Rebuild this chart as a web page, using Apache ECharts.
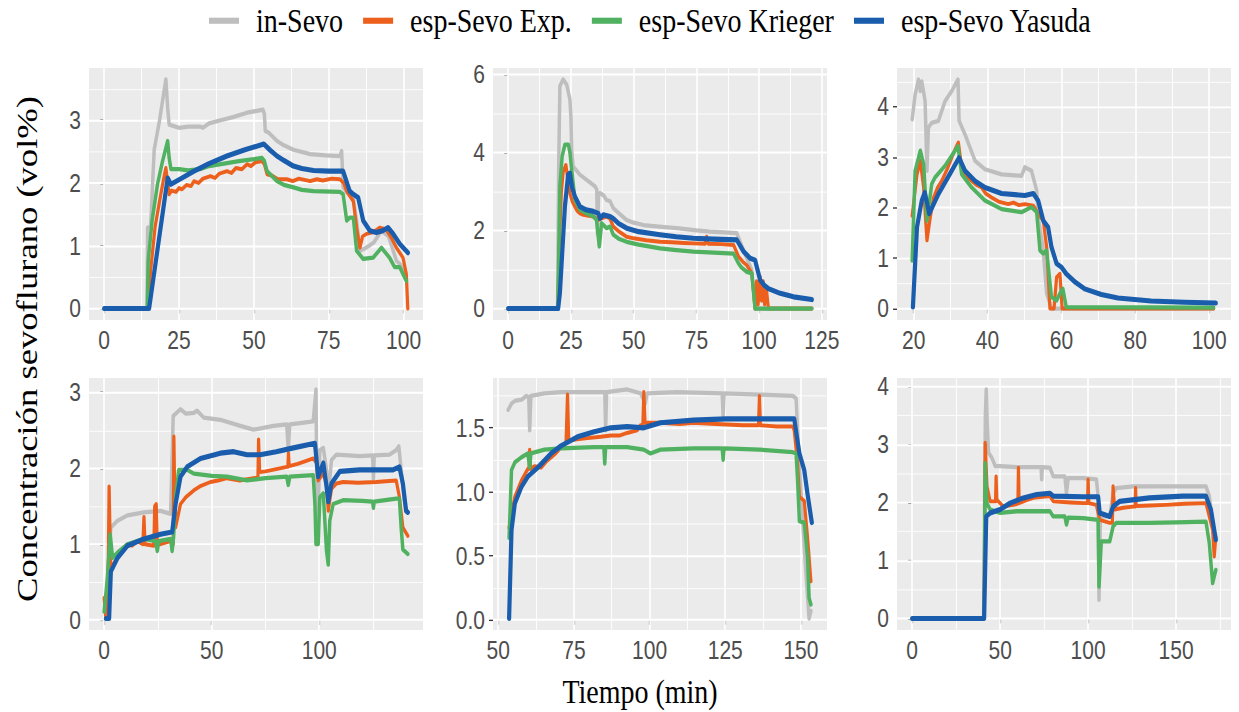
<!DOCTYPE html>
<html>
<head>
<meta charset="utf-8">
<script src="https://cdn.jsdelivr.net/npm/echarts@6/dist/echarts.min.js"></script>
<style>
  html, body { margin: 0; padding: 0; background: #ffffff; width: 1239px; height: 712px; }
  #frame { position: relative; width: 1239px; height: 712px; overflow: hidden; }
  #chart { position: absolute; left: 0; top: 0; width: 1239px; transform-origin: 0 0; }
</style>
</head>
<body>
<div id="frame"><div id="chart"></div></div>
<script>
// ---- series names and colours ----
const seriesNames = ['in-Sevo', 'esp-Sevo Exp.', 'esp-Sevo Krieger', 'esp-Sevo Yasuda'];
const seriesColors = ['#BEBEBE', '#EC5F1C', '#50B160', '#1A5DAD'];

// ---- case 1 : [minute, vol%] ----
const p1Gray = [[0,0],[14.3,0],[14.5,1.29],[15.5,1.3],[16.7,2.53],[18.5,3.0],[20.6,3.65],[21.2,3.2],[21.7,2.93],[25,2.88],[28,2.9],[32,2.9],[33,2.88],[35,2.95],[38.9,3.0],[43,3.05],[47.7,3.12],[51,3.15],[53,3.17],[53.5,3.1],[53.8,2.83],[55,2.8],[57.7,2.67],[60,2.6],[63.2,2.53],[68.8,2.46],[74,2.44],[78.7,2.43],[79.3,2.51],[79.8,1.93],[81,1.85],[83.2,1.75],[84.3,1.4],[85.4,0.92],[87.5,0.97],[90,1.05],[92.6,1.24],[95,1.15],[97.6,0.76],[99,0.7],[100.9,0.5]];
const p1Orange = [[0,0],[14.4,0],[15.5,0.6],[17,1.3],[18.9,1.82],[20,2.1],[20.6,2.24],[21.2,2.0],[21.7,1.82],[22.5,1.88],[24,1.86],[25,1.92],[26,1.9],[27.5,1.97],[29,1.95],[30,2.03],[31.5,2.0],[33,2.07],[35.5,2.11],[37,2.08],[38.5,2.15],[41,2.19],[42.5,2.16],[44,2.24],[46,2.22],[47.7,2.3],[49,2.27],[50.5,2.33],[52.7,2.35],[53.5,2.3],[54.4,2.14],[56,2.12],[58,2.06],[61,2.06],[63,2.03],[65,2.07],[68.8,2.03],[71,2.06],[73,2.04],[76,2.07],[78.7,2.06],[80,2.0],[81,1.87],[83.2,1.71],[84.3,1.29],[85.4,0.97],[86.3,1.15],[87.6,1.19],[90,1.22],[92,1.29],[94.2,1.26],[96,1.12],[97.6,0.97],[99.8,0.81],[100.9,0.55],[101.4,0]];
const p1Green = [[0,0],[14.4,0],[14.7,0.76],[16,1.4],[17.8,1.98],[19.5,2.35],[21.2,2.67],[21.7,2.4],[22.3,2.22],[25,2.22],[28,2.2],[32,2.22],[35,2.27],[40,2.31],[45,2.35],[50,2.38],[52.7,2.4],[53.5,2.35],[54.4,2.19],[57.7,2.03],[60,1.97],[63.2,1.93],[66,1.89],[69.9,1.87],[78.7,1.86],[79.8,1.82],[81,1.4],[82,1.45],[83.2,1.45],[84.3,0.92],[86.5,0.79],[89.8,0.81],[92.6,0.97],[95.3,0.81],[97,0.66],[98.7,0.66],[100.9,0.44]];
const p1Blue = [[0,0],[15,0],[21.2,2.08],[22.3,1.98],[26,2.08],[30,2.19],[35,2.31],[41,2.43],[47,2.53],[53.3,2.62],[55.5,2.52],[57.7,2.43],[60,2.36],[63.2,2.27],[66,2.23],[69.9,2.2],[75,2.19],[79.8,2.19],[82,1.87],[83.2,1.82],[84.8,1.77],[86.5,1.4],[88.7,1.24],[90.9,1.21],[93,1.24],[94.8,1.29],[96.5,1.19],[98.7,1.03],[101.4,0.89]];

// ---- case 2 ----
const p2Gray = [[0,0],[19.7,0],[20.1,3.5],[20.6,5.7],[21.9,5.87],[23.3,5.74],[24.6,5.36],[25,4.9],[25.3,4.07],[25.9,3.64],[28.6,3.43],[31.2,3.3],[34.6,3.13],[35.3,3.05],[35.6,1.9],[36,2.9],[36.6,2.96],[38,2.9],[39.2,2.78],[40.6,2.75],[41.9,2.57],[44,2.45],[47.2,2.27],[50,2.2],[53.9,2.14],[60,2.1],[67.2,2.06],[75,2.0],[80.5,1.97],[86,1.95],[91.1,1.93],[92.5,1.7],[95,1.3],[97,1.0],[98.4,0],[121,0]];
const p2Orange = [[0,0],[19.8,0],[20.3,1.5],[21.2,3.0],[21.9,3.5],[23,3.68],[23.8,3.3],[24.6,2.96],[25.5,2.75],[26.6,2.61],[27.5,2.5],[28.6,2.44],[30,2.4],[31.5,2.38],[33.9,2.36],[35.9,2.27],[36.8,2.3],[38,2.33],[39.2,2.36],[40.6,2.3],[41.9,2.1],[44,1.98],[47.2,1.84],[50,1.8],[55,1.75],[60.5,1.71],[65,1.7],[70,1.68],[73.8,1.67],[78.5,1.66],[79.1,1.84],[79.7,1.66],[85,1.65],[89.8,1.63],[91.8,1.33],[93.5,1.2],[95.1,1.11],[97.1,0.9],[98.4,0],[99,0.7],[99.6,0.1],[100.4,0.81],[101,0.2],[101.6,0.7],[102.2,0.1],[102.8,0.55],[103.7,0],[121,0]];
const p2Green = [[0,0],[19.8,0],[20.6,3.13],[21.5,3.9],[22.6,4.2],[24,4.2],[24.6,4.0],[25.3,3.56],[26.6,2.79],[28.6,2.53],[31,2.45],[33.9,2.36],[35.2,2.27],[35.8,1.9],[36.3,1.59],[36.8,1.9],[37.2,2.19],[39.2,2.06],[40.6,2.1],[41.9,1.89],[44,1.79],[47.2,1.71],[52,1.64],[60.5,1.54],[67,1.5],[73.8,1.46],[80,1.44],[89.8,1.41],[91.8,1.16],[93,1.05],[95.1,0.94],[97.1,0.9],[98.4,0],[121,0]];
const p2Blue = [[0,0],[19.9,0],[20.6,0.39],[22.6,2.61],[23.9,3.43],[24.6,3.47],[25.5,3.1],[26.6,2.87],[28.6,2.61],[31,2.53],[33.9,2.49],[35.9,2.44],[36.6,2.31],[37.9,2.4],[40.6,2.36],[42,2.3],[44,2.18],[47.2,2.06],[52,1.97],[60.5,1.89],[67,1.84],[73.8,1.8],[82,1.78],[91.1,1.76],[93.8,1.46],[96.4,1.29],[98.4,1.24],[100.4,0.73],[102,0.6],[103.7,0.51],[108.4,0.39],[113.7,0.3],[121,0.23]];

// ---- case 3 ----
const p3Gray = [[19.6,3.75],[20.4,4.24],[21.3,4.54],[21.8,4.31],[22.2,4.5],[23.1,4.11],[23.6,2.73],[24,3.59],[24.9,3.68],[26.7,3.72],[28.5,4.11],[30.3,4.31],[32,4.54],[32.3,3.72],[33.9,3.45],[36.6,2.93],[39.3,2.76],[43.8,2.66],[49.2,2.63],[50.1,2.8],[51.9,2.73],[53.3,2.34],[53.7,1.81],[55,1.22],[56,0.3],[57.3,0],[101.2,0]];
const p3Orange = [[19.6,1.84],[20.9,2.66],[21.8,2.93],[22.7,2.4],[23.6,1.35],[24.5,1.81],[25.4,2.2],[26.5,2.4],[27.6,2.53],[29,2.75],[30.3,2.99],[31.2,3.15],[32.1,3.29],[33,2.8],[34.3,2.62],[35.7,2.53],[37,2.45],[38.4,2.4],[39.5,2.28],[41.1,2.2],[43,2.12],[45.6,2.07],[47,2.1],[48.5,2.05],[50.1,2.07],[52.4,2.04],[53.7,1.88],[55.1,1.74],[56,1.22],[56.9,0],[58,0],[58.7,0.62],[59.6,0.69],[60.2,0],[101.2,0]];
const p3Green = [[19.6,0.95],[20.4,2.73],[21.8,3.13],[22.7,2.86],[23.6,1.74],[24.9,2.47],[25.8,2.6],[28.5,2.83],[30.5,3.05],[32,3.22],[33,2.66],[35.7,2.4],[39.3,2.14],[43.8,1.97],[49.2,1.91],[51.9,2.01],[53.3,1.91],[54.2,1.15],[55.1,1.09],[56,1.15],[57.3,0.23],[58.7,0.16],[59.6,0.3],[60.4,0.39],[61.3,0.03],[101.2,0.02]];
const p3Blue = [[19.8,0.03],[20.9,1.61],[22.2,2.14],[23,2.3],[23.6,2.1],[24.2,1.88],[26.7,2.27],[30.3,2.73],[32.3,2.99],[33.9,2.73],[36.6,2.53],[39.3,2.4],[43.8,2.28],[50.1,2.24],[52.4,2.28],[53.7,2.14],[55.1,1.74],[56.4,1.61],[57.3,1.22],[58.7,0.89],[60,0.82],[61.3,0.69],[63.6,0.53],[66.3,0.39],[70.8,0.28],[75.3,0.21],[84.3,0.15],[93.3,0.125],[101.8,0.11]];

// ---- case 4 ----
const p4Gray = [[0.8,0.11],[2.3,0.9],[3.1,1.22],[6.2,1.31],[10.8,1.38],[18.5,1.42],[26.2,1.44],[30.9,1.4],[32.1,2.69],[35.5,2.78],[38,2.72],[41.7,2.73],[43.2,2.76],[46.3,2.67],[54,2.64],[63.3,2.56],[69.4,2.51],[78.7,2.56],[84.9,2.58],[85.6,2.24],[86.3,2.58],[92,2.6],[97.2,2.62],[98.5,3.04],[99.1,1.0],[100.3,2.24],[101.9,2.27],[103.4,1.98],[104.2,1.62],[105.7,2.11],[108,2.18],[118.8,2.16],[124.8,2.17],[125.2,1.85],[125.6,2.17],[132.7,2.18],[135.8,2.24],[137,2.29],[138.1,1.98],[139.5,1.6],[140.4,1.45]];
const p4Orange = [[0,0.29],[0.8,0.02],[1.8,0.5],[2.3,1.76],[2.8,1.0],[3.1,0.64],[4.5,0.75],[6.2,0.82],[8,0.92],[10.8,1.0],[13,0.98],[15.4,1.04],[18,1.0],[18.5,1.36],[19,1.0],[21,0.99],[23.1,0.98],[23.5,1.5],[24.2,1.53],[24.7,1.0],[26.2,1.0],[28.5,1.02],[30.9,1.04],[32.1,1.0],[32.4,2.42],[32.9,1.5],[33.2,1.22],[35.5,1.53],[38,1.62],[41.7,1.71],[45,1.77],[49.4,1.82],[53,1.84],[57.1,1.87],[63,1.84],[69.4,1.87],[71.5,1.88],[71.8,2.38],[72.3,1.95],[75,1.96],[80,1.99],[84.9,2.02],[85.4,2.02],[85.7,2.2],[86,2.03],[90,2.06],[94,2.1],[97.2,2.13],[98.8,2.07],[99.5,1.84],[101.9,1.93],[103.4,1.8],[104.2,1.44],[105.7,1.73],[108,1.8],[111.1,1.82],[118,1.81],[126.5,1.82],[131,1.83],[135.8,1.84],[137.3,1.62],[138.9,1.22],[141.2,1.11]];
const p4Green = [[0,0.11],[1.5,0.56],[2.8,1.13],[3.9,0.82],[6.2,0.89],[10.8,1.0],[18.5,1.07],[23.9,1.04],[24.7,0.91],[25.4,1.04],[30.9,1.07],[31.6,0.91],[32.3,1.1],[33.2,1.62],[34.7,1.98],[38.6,1.98],[41.7,1.93],[50,1.9],[57.1,1.89],[66.4,1.84],[75,1.87],[84.9,1.89],[85.6,1.78],[86.3,1.89],[97.2,1.91],[98,1.53],[98.5,1.0],[99.5,1.0],[100.3,1.62],[101.9,1.67],[103.4,0.91],[104.2,0.73],[104.9,1.31],[106.5,1.53],[111.1,1.58],[120,1.57],[124.8,1.56],[125.2,1.48],[125.6,1.56],[135.8,1.6],[137.3,1.6],[138.1,1.22],[138.9,0.93],[141.2,0.87]];
const p4Blue = [[0.8,0.02],[2.3,0.02],[3.1,0.64],[6.2,0.82],[10.8,0.98],[18.5,1.07],[26.2,1.13],[31.6,1.16],[33.2,1.53],[35.5,1.89],[38.6,2.02],[44.8,2.13],[54,2.2],[60.2,2.22],[66.4,2.18],[72.5,2.18],[80,2.22],[88,2.27],[98,2.33],[99.5,1.89],[101.9,2.07],[103.4,1.76],[104.2,1.56],[105.7,1.8],[109.6,1.96],[118.8,1.98],[134.3,1.98],[137.3,2.02],[138.9,1.8],[140.4,1.44],[141.2,1.42]];

// ---- case 5 ----
const p5Gray = [[53.3,1.64],[54.4,1.69],[55.5,1.71],[57.7,1.72],[59.3,1.75],[60.1,1.74],[60.4,1.48],[60.8,1.75],[65.3,1.77],[70.8,1.78],[81.7,1.78],[85.2,1.78],[85.5,1.48],[85.8,1.78],[92.6,1.8],[97,1.77],[98.6,1.69],[99.2,1.77],[109,1.78],[124,1.77],[124.3,1.59],[124.6,1.77],[136.3,1.76],[147.3,1.75],[148.4,1.73],[149.5,1.2],[151.6,0.38],[152.7,0.01],[153.3,0.07]];
const p5Orange = [[53.6,0.72],[55.5,0.96],[57.7,1.09],[59.8,1.18],[60.2,1.18],[60.4,1.33],[60.7,1.18],[62,1.2],[64.2,1.19],[66,1.24],[67.5,1.27],[69,1.3],[70.8,1.35],[72.4,1.38],[72.9,1.76],[73.3,1.4],[76,1.41],[79.5,1.42],[83.9,1.43],[87.2,1.44],[90,1.44],[92.6,1.46],[95.9,1.48],[97,1.52],[97.8,1.52],[98.1,1.78],[98.5,1.54],[103.6,1.54],[110,1.53],[114.5,1.54],[122,1.53],[130.9,1.52],[136,1.52],[136.3,1.75],[136.6,1.52],[142,1.51],[147.3,1.51],[147.8,1.48],[148.9,1.22],[149.5,0.96],[151.1,0.93],[152.2,0.64],[153.3,0.3]];
const p5Green = [[53.6,0.64],[54.4,1.17],[55.5,1.23],[57.7,1.27],[59.8,1.3],[60.4,1.19],[60.8,1.3],[65.3,1.33],[70.8,1.34],[81.7,1.35],[84.9,1.35],[85.2,1.22],[85.5,1.35],[92.6,1.35],[98.1,1.33],[100.3,1.3],[103.6,1.33],[114.5,1.34],[124,1.34],[124.3,1.25],[124.6,1.34],[136.3,1.33],[147.3,1.31],[148.4,1.3],[148.9,1.09],[149.5,0.77],[151.1,0.76],[152.2,0.49],[152.7,0.17],[153.3,0.12]];
const p5Blue = [[53.6,0.01],[54.4,0.7],[55.5,0.91],[57.7,1.04],[59.8,1.12],[63.1,1.19],[67.5,1.3],[70.8,1.36],[76.2,1.43],[81.7,1.47],[87.2,1.5],[92.6,1.51],[98.1,1.5],[103.6,1.54],[114.5,1.56],[125.4,1.57],[136.3,1.57],[147.8,1.57],[149.5,1.3],[151.1,1.17],[152.2,0.98],[153.6,0.76]];

// ---- case 6 ----
const p6Gray = [[0,0],[40.6,0],[41.6,3.5],[42.1,3.95],[42.6,3.4],[43.4,2.86],[45.3,2.77],[47.2,2.63],[50,2.63],[59.4,2.61],[73.3,2.61],[73.6,2.4],[73.9,2.61],[78.3,2.6],[80.2,2.45],[86.8,2.45],[87.7,2.16],[88.7,2.42],[97.2,2.42],[104.7,2.4],[105.7,2.11],[106.2,0.32],[107,1.76],[112.3,1.76],[114.2,2.16],[116,2.25],[125.5,2.28],[144.3,2.28],[167,2.28],[168.9,2.11],[170.8,1.65],[172.6,1.36]];
const p6Orange = [[0,0],[40.9,0],[41.5,3.03],[42.5,2.28],[44.3,2.02],[47.4,2.02],[47.7,2.45],[48.1,2.05],[51.9,1.93],[55,1.95],[57.5,1.96],[60.1,1.98],[60.4,2.6],[60.8,1.99],[65,2.04],[68.9,2.08],[74,2.1],[78.3,2.11],[80.2,2.02],[90,2.0],[97.2,1.99],[99.7,1.99],[100,2.4],[100.4,1.99],[104.7,1.96],[106.6,1.7],[112.3,1.65],[113.8,1.65],[114.2,2.28],[115.1,1.88],[120,1.91],[125.5,1.93],[126.7,1.93],[127,2.25],[127.3,1.94],[135,1.95],[144.3,1.96],[155,1.98],[167,1.99],[168.9,1.76],[170.8,1.53],[171.7,1.07],[172.6,1.41]];
const p6Green = [[0,0],[40.9,0],[41.5,2.68],[42.5,1.99],[44.3,1.88],[50,1.82],[59.4,1.85],[72.6,1.85],[78.3,1.85],[80.2,1.76],[86.8,1.76],[87.7,1.62],[88.7,1.74],[97.2,1.73],[105.7,1.7],[106.2,0.55],[107.5,1.33],[112.3,1.33],[114.2,1.59],[116,1.65],[134.9,1.65],[150,1.66],[167,1.67],[168.9,1.3],[170.8,0.61],[172.6,0.84]];
const p6Blue = [[0,0],[40.9,0],[42.1,1.76],[44.3,1.82],[50,1.88],[55.7,1.99],[63.2,2.08],[70.8,2.14],[78.3,2.16],[80.2,2.11],[97.2,2.1],[105.7,2.1],[106.6,1.82],[112.3,1.76],[114.2,1.93],[117.9,2.02],[134.9,2.08],[153.8,2.11],[167,2.11],[169.8,1.88],[172.6,1.36]];

// ---- axis tick values per panel ----
const p1XTicks = [0, 25, 50, 75, 100],  p1YTicks = [0, 1, 2, 3];
const p2XTicks = [0, 25, 50, 75, 100, 125], p2YTicks = [0, 2, 4, 6];
const p3XTicks = [20, 40, 60, 80, 100], p3YTicks = [0, 1, 2, 3, 4];
const p4XTicks = [0, 50, 100], p4YTicks = [0, 1, 2, 3];
const p5XTicks = [50, 75, 100, 125, 150], p5YTicks = [0, 0.5, 1, 1.5];
const p6XTicks = [0, 50, 100, 150], p6YTicks = [0, 1, 2, 3, 4];

// ---- layout ----
const STRETCH = 1.22;            // vertical stretch applied to the whole figure
const PANEL_W = 334, PANEL_H = 252;
const panelOrigins = [[89, 68], [493, 68], [897, 68], [89, 378], [493, 378], [897, 378]];

const panels = [
  { lines: [p1Gray, p1Orange, p1Green, p1Blue], xt: p1XTicks, yt: p1YTicks, yDec: 0 },
  { lines: [p2Gray, p2Orange, p2Green, p2Blue], xt: p2XTicks, yt: p2YTicks, yDec: 0 },
  { lines: [p3Gray, p3Orange, p3Green, p3Blue], xt: p3XTicks, yt: p3YTicks, yDec: 0 },
  { lines: [p4Gray, p4Orange, p4Green, p4Blue], xt: p4XTicks, yt: p4YTicks, yDec: 0 },
  { lines: [p5Gray, p5Orange, p5Green, p5Blue], xt: p5XTicks, yt: p5YTicks, yDec: 1 },
  { lines: [p6Gray, p6Orange, p6Green, p6Blue], xt: p6XTicks, yt: p6YTicks, yDec: 0 }
];

const lineWidths = [3.5, 3.2, 3.5, 4.2];

// ggplot-style 5% expansion of the data range
function expandRange(vals) {
  const lo = Math.min(...vals), hi = Math.max(...vals);
  const pad = (hi - lo) * 0.05;
  return [lo - pad, hi + pad];
}
// minor gridlines half-way between the major ones
function minorValues(ticks, lo, hi) {
  const step = ticks[1] - ticks[0];
  const out = [];
  for (let v = ticks[0] - step / 2; v <= hi; v += step) if (v >= lo) out.push(v);
  return out;
}

const el = document.getElementById('chart');
el.style.height = (712 / STRETCH) + 'px';
el.style.transform = 'scaleY(' + STRETCH + ')';

const chart = echarts.init(el, null, { renderer: 'svg' });

const grid = [], xAxis = [], yAxis = [], series = [];
const tickFont = { color: '#4D4D4D', fontFamily: 'Liberation Sans', fontSize: 21 };

panels.forEach((p, i) => {
  const [left, top] = panelOrigins[i];
  grid.push({
    left: left, top: top / STRETCH, width: PANEL_W, height: PANEL_H / STRETCH,
    show: true, backgroundColor: '#EBEBEB', borderWidth: 0, containLabel: false
  });
  const xs = [], ys = [];
  p.lines.forEach(arr => arr.forEach(d => { xs.push(d[0]); ys.push(d[1]); }));
  const xr = expandRange(xs), yr = expandRange(ys);

  xAxis.push({
    gridIndex: i, type: 'value', min: xr[0], max: xr[1],
    axisLine: { show: false }, splitLine: { show: false },
    axisTick: { show: true, customValues: p.xt, length: 4, lineStyle: { color: '#333333', width: 1.1 } },
    axisLabel: Object.assign({ customValues: p.xt, margin: 6, formatter: v => String(v) }, tickFont)
  });
  yAxis.push({
    gridIndex: i, type: 'value', min: yr[0], max: yr[1],
    axisLine: { show: false }, splitLine: { show: false },
    axisTick: { show: true, customValues: p.yt, length: 4, lineStyle: { color: '#333333', width: 1.1 } },
    axisLabel: Object.assign({ customValues: p.yt, margin: 8, formatter: v => v.toFixed(p.yDec) }, tickFont)
  });

  // white panel gridlines, placed on the axis scales
  const gl = [];
  minorValues(p.xt, xr[0], xr[1]).forEach(v => gl.push({ xAxis: v, lineStyle: { width: 0.8 } }));
  minorValues(p.yt, yr[0], yr[1]).forEach(v => gl.push({ yAxis: v, lineStyle: { width: 0.8 } }));
  p.xt.forEach(v => gl.push({ xAxis: v, lineStyle: { width: 1.6 } }));
  p.yt.forEach(v => gl.push({ yAxis: v, lineStyle: { width: 1.6 } }));
  series.push({
    type: 'line', xAxisIndex: i, yAxisIndex: i, data: [[xr[0], yr[0]]],
    showSymbol: false, silent: true, z: 1, lineStyle: { opacity: 0 },
    markLine: {
      silent: true, z: 1, symbol: ['none', 'none'], label: { show: false },
      emphasis: { disabled: true }, animation: false,
      lineStyle: { color: '#FFFFFF', type: 'solid' },
      data: gl
    }
  });

  p.lines.forEach((arr, k) => {
    series.push({
      type: 'line', name: seriesNames[k], xAxisIndex: i, yAxisIndex: i,
      data: arr, showSymbol: false, symbol: 'none', silent: true, z: 3 + k,
      color: seriesColors[k],
      lineStyle: { color: seriesColors[k], width: lineWidths[k], join: 'round', cap: 'round' },
      emphasis: { disabled: true }
    });
  });
});

chart.setOption({
  animation: false,
  backgroundColor: '#FFFFFF',
  legend: {
    data: seriesNames, left: 204, top: -2,
    icon: 'rect', itemWidth: 30, itemHeight: 5, itemGap: 20,
    selectedMode: false,
    textStyle: { fontFamily: 'Liberation Serif', fontSize: 28, color: '#000000', padding: [0, 0, 0, 12] }
  },
  grid: grid, xAxis: xAxis, yAxis: yAxis, series: series,
  graphic: [
    {
      type: 'text', x: 27, y: 349 / STRETCH, rotation: Math.PI / 2, silent: true,
      style: { text: 'Concentración sevoflurano (vol%)', font: '30px "Liberation Serif"', fill: '#000000', align: 'center', verticalAlign: 'middle' }
    },
    {
      type: 'text', x: 640, y: 692 / STRETCH, silent: true,
      style: { text: 'Tiempo (min)', font: '28px "Liberation Serif"', fill: '#000000', align: 'center', verticalAlign: 'middle' }
    }
  ]
});
</script>
</body>
</html>
